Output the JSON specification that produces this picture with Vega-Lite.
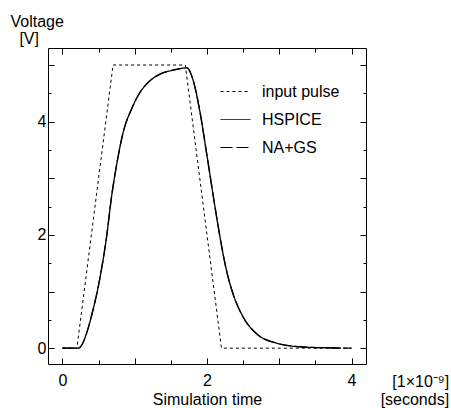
{
  "$schema": "https://vega.github.io/schema/vega-lite/v6.json",
  "width": 318,
  "height": 316,
  "autosize": "none",
  "padding": {"left": 48, "top": 48, "right": 85, "bottom": 44},
  "config": {
    "view": {"stroke": "black", "strokeWidth": 1},
    "font": "Liberation Sans",
    "axis": {
      "domain": false, "tickColor": "black", "labelColor": "black", "titleColor": "black",
      "labelFontSize": 16, "titleFontSize": 16, "titleFontWeight": "normal", "grid": false,
      "tickWidth": 1
    },
    "legend": {
      "orient": "none", "legendX": 172, "legendY": 28, "symbolType": "stroke", "symbolSize": 900,
      "symbolStrokeWidth": 1, "symbolStrokeColor": "black", "labelFontSize": 16, "labelColor": "black",
      "labelOffset": 11, "rowPadding": 4
    }
  },
  "datasets": {
    "pulse": [
      {"t": 0, "v": 0, "series": "input pulse"},
      {"t": 0.2, "v": 0, "series": "input pulse"},
      {"t": 0.7, "v": 5, "series": "input pulse"},
      {"t": 1.7, "v": 5, "series": "input pulse"},
      {"t": 2.2, "v": 0, "series": "input pulse"},
      {"t": 4.0, "v": 0, "series": "input pulse"}
    ],
    "curves": [
      {"t": 0, "v": 0, "series": "HSPICE"},
      {"t": 0.22, "v": 0, "series": "HSPICE"},
      {"t": 0.27, "v": 0.06, "series": "HSPICE"},
      {"t": 0.33, "v": 0.25, "series": "HSPICE"},
      {"t": 0.42, "v": 0.66, "series": "HSPICE"},
      {"t": 0.52, "v": 1.25, "series": "HSPICE"},
      {"t": 0.61, "v": 1.96, "series": "HSPICE"},
      {"t": 0.68, "v": 2.68, "series": "HSPICE"},
      {"t": 0.75, "v": 3.24, "series": "HSPICE"},
      {"t": 0.84, "v": 3.81, "series": "HSPICE"},
      {"t": 0.955, "v": 4.22, "series": "HSPICE"},
      {"t": 1.07, "v": 4.51, "series": "HSPICE"},
      {"t": 1.21, "v": 4.72, "series": "HSPICE"},
      {"t": 1.35, "v": 4.84, "series": "HSPICE"},
      {"t": 1.5, "v": 4.9, "series": "HSPICE"},
      {"t": 1.65, "v": 4.94, "series": "HSPICE"},
      {"t": 1.72, "v": 4.95, "series": "HSPICE"},
      {"t": 1.81, "v": 4.72, "series": "HSPICE"},
      {"t": 1.90, "v": 4.19, "series": "HSPICE"},
      {"t": 1.99, "v": 3.48, "series": "HSPICE"},
      {"t": 2.09, "v": 2.66, "series": "HSPICE"},
      {"t": 2.18, "v": 1.96, "series": "HSPICE"},
      {"t": 2.27, "v": 1.37, "series": "HSPICE"},
      {"t": 2.36, "v": 0.96, "series": "HSPICE"},
      {"t": 2.50, "v": 0.55, "series": "HSPICE"},
      {"t": 2.69, "v": 0.25, "series": "HSPICE"},
      {"t": 2.96, "v": 0.09, "series": "HSPICE"},
      {"t": 3.33, "v": 0.02, "series": "HSPICE"},
      {"t": 3.7, "v": 0.005, "series": "HSPICE"},
      {"t": 3.85, "v": 0, "series": "HSPICE"},
      {"t": 0, "v": 0, "series": "NA+GS"},
      {"t": 0.22, "v": 0, "series": "NA+GS"},
      {"t": 0.27, "v": 0.06, "series": "NA+GS"},
      {"t": 0.33, "v": 0.25, "series": "NA+GS"},
      {"t": 0.42, "v": 0.66, "series": "NA+GS"},
      {"t": 0.52, "v": 1.25, "series": "NA+GS"},
      {"t": 0.61, "v": 1.96, "series": "NA+GS"},
      {"t": 0.68, "v": 2.68, "series": "NA+GS"},
      {"t": 0.75, "v": 3.24, "series": "NA+GS"},
      {"t": 0.84, "v": 3.81, "series": "NA+GS"},
      {"t": 0.955, "v": 4.22, "series": "NA+GS"},
      {"t": 1.07, "v": 4.51, "series": "NA+GS"},
      {"t": 1.21, "v": 4.72, "series": "NA+GS"},
      {"t": 1.35, "v": 4.84, "series": "NA+GS"},
      {"t": 1.5, "v": 4.9, "series": "NA+GS"},
      {"t": 1.65, "v": 4.94, "series": "NA+GS"},
      {"t": 1.72, "v": 4.95, "series": "NA+GS"},
      {"t": 1.81, "v": 4.72, "series": "NA+GS"},
      {"t": 1.90, "v": 4.19, "series": "NA+GS"},
      {"t": 1.99, "v": 3.48, "series": "NA+GS"},
      {"t": 2.09, "v": 2.66, "series": "NA+GS"},
      {"t": 2.18, "v": 1.96, "series": "NA+GS"},
      {"t": 2.27, "v": 1.37, "series": "NA+GS"},
      {"t": 2.36, "v": 0.96, "series": "NA+GS"},
      {"t": 2.50, "v": 0.55, "series": "NA+GS"},
      {"t": 2.69, "v": 0.25, "series": "NA+GS"},
      {"t": 2.96, "v": 0.09, "series": "NA+GS"},
      {"t": 3.33, "v": 0.02, "series": "NA+GS"},
      {"t": 3.7, "v": 0.005, "series": "NA+GS"},
      {"t": 4.0, "v": 0, "series": "NA+GS"}
    ],
    "note1": [
      {"t": 5.35, "v": -0.6, "label": "[1×10⁻⁹]"}
    ],
    "note2": [
      {"t": 5.35, "v": -0.92, "label": "[seconds]"}
    ]
  },
  "layer": [
    {
      "data": {"name": "pulse"},
      "mark": {"type": "line", "color": "black", "strokeWidth": 1},
      "encoding": {
        "x": {
          "field": "t", "type": "quantitative",
          "scale": {"domain": [-0.2, 4.2], "nice": false, "zero": false},
          "axis": {
            "orient": "bottom", "values": [0, 1, 2, 3, 4],
            "labelExpr": "datum.value % 2 === 0 ? format(datum.value, 'd') : ''",
            "tickSize": -6, "labelPadding": 14,
            "title": "Simulation time", "titlePadding": 3
          }
        },
        "y": {
          "field": "v", "type": "quantitative",
          "scale": {"domain": [-0.28, 5.3], "nice": false, "zero": false},
          "axis": {
            "orient": "left", "values": [0, 1, 2, 3, 4, 5],
            "labelExpr": "datum.value % 2 === 0 ? format(datum.value, 'd') : ''",
            "tickSize": -6, "labelPadding": 8,
            "title": ["Voltage", "\u200b\u00a0\u00a0[V]"], "titleAngle": 0, "titleAlign": "left", "titleBaseline": "top",
            "titleX": -38, "titleY": -35, "titleLineHeight": 17
          }
        },
        "strokeDash": {
          "field": "series", "type": "nominal",
          "scale": {"domain": ["input pulse", "HSPICE", "NA+GS"], "range": [[3, 3], [1, 0], [12, 4]]},
          "legend": {"title": null}
        }
      }
    },
    {
      "data": {"name": "curves"},
      "mark": {"type": "line", "color": "black", "strokeWidth": 1.3, "interpolate": "monotone"},
      "encoding": {
        "x": {
          "field": "t", "type": "quantitative", "scale": {"domain": [-0.2, 4.2], "nice": false, "zero": false},
          "axis": {"orient": "bottom", "values": [0.5, 1.5, 2.5, 3.5], "tickSize": -4, "labels": false, "title": null}
        },
        "y": {
          "field": "v", "type": "quantitative", "scale": {"domain": [-0.28, 5.3], "nice": false, "zero": false},
          "axis": {"orient": "left", "values": [0.5, 1.5, 2.5, 3.5, 4.5], "tickSize": -3, "labels": false, "title": null}
        },
        "strokeDash": {"field": "series", "type": "nominal", "legend": {"title": null}}
      }
    },
    {
      "data": {"name": "note1"},
      "mark": {"type": "text", "align": "right", "baseline": "middle", "fontSize": 16, "color": "black"},
      "encoding": {
        "x": {
          "field": "t", "type": "quantitative", "scale": {"domain": [-0.2, 4.2], "nice": false, "zero": false},
          "axis": {"orient": "top", "values": [0, 1, 2, 3, 4], "tickSize": -6, "labels": false, "title": null}
        },
        "y": {
          "field": "v", "type": "quantitative", "scale": {"domain": [-0.28, 5.3], "nice": false, "zero": false},
          "axis": {"orient": "right", "values": [0, 1, 2, 3, 4, 5], "tickSize": -6, "labels": false, "title": null}
        },
        "text": {"field": "label"}
      }
    },
    {
      "data": {"name": "note2"},
      "mark": {"type": "text", "align": "right", "baseline": "middle", "fontSize": 16, "color": "black"},
      "encoding": {
        "x": {
          "field": "t", "type": "quantitative", "scale": {"domain": [-0.2, 4.2], "nice": false, "zero": false},
          "axis": {"orient": "top", "values": [0.5, 1.5, 2.5, 3.5], "tickSize": -4, "labels": false, "title": null}
        },
        "y": {
          "field": "v", "type": "quantitative", "scale": {"domain": [-0.28, 5.3], "nice": false, "zero": false},
          "axis": {"orient": "right", "values": [0.5, 1.5, 2.5, 3.5, 4.5], "tickSize": -3, "labels": false, "title": null}
        },
        "text": {"field": "label"}
      }
    }
  ],
  "resolve": {"axis": {"x": "independent", "y": "independent"}}
}
